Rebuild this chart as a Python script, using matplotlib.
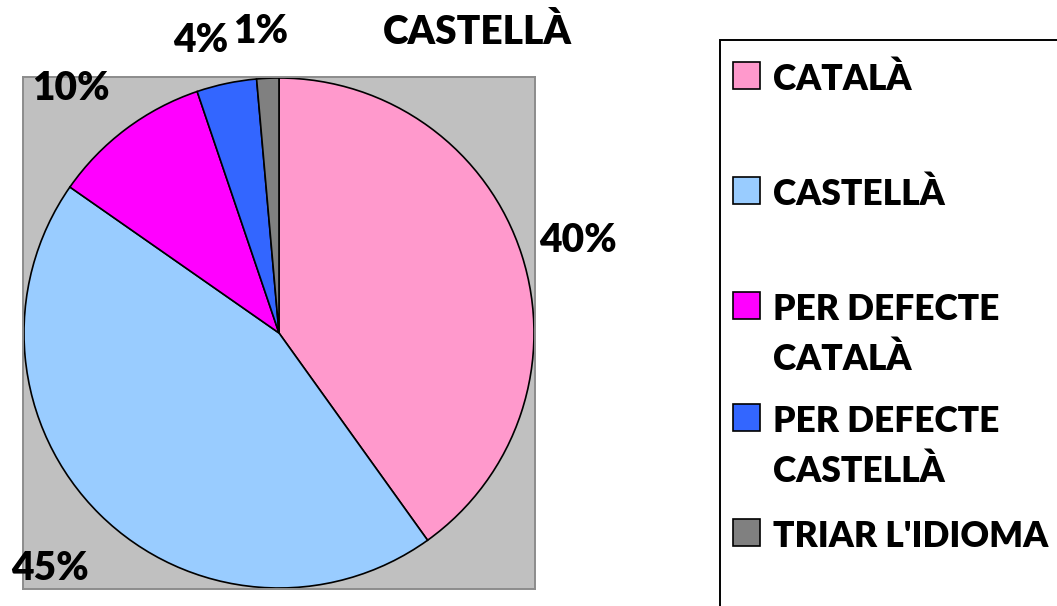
import numpy as np
import matplotlib
matplotlib.use("Agg")
import matplotlib.pyplot as plt
from matplotlib.patches import Rectangle

plt.rcParams['font.family'] = ['Lato', 'DejaVu Sans']
plt.rcParams['font.weight'] = 'heavy'

# ---- data ----
title = "CASTELLÀ"
categories = ["CATALÀ", "CASTELLÀ", "PER DEFECTE\nCATALÀ", "PER DEFECTE\nCASTELLÀ", "TRIAR L'IDIOMA"]
values = [40.1, 44.6, 10.1, 3.8, 1.4]
colors = ["#FF99CC", "#99CCFF", "#FF00FF", "#3366FF", "#808080"]
label_dist = [1.23, 1.28, 1.27, 1.20, 1.20]
label_angle_offset = [0, 0, 3, 3, 1]   # degrees, Excel's label nudging

W, H = 1057, 606
FW = 'heavy'
fig = plt.figure(figsize=(W / 100, H / 100), dpi=100)

def fx(px):
    return px / W

def fy(py):
    return 1 - py / H

# plot area (gray square)
ax = fig.add_axes([fx(23), fy(589), fx(512), 512 / H])
wedges, _t, autotexts = ax.pie(values, colors=colors, startangle=90, counterclock=False,
                               autopct='%1.0f%%', pctdistance=1.0,
                               wedgeprops=dict(edgecolor='black', linewidth=1.2))
ax.set_frame_on(True)
ax.set_facecolor('#C0C0C0')
for sp in ax.spines.values():
    sp.set_color('#8C8C8C')
    sp.set_linewidth(1.4)
lim = 256 / 255
ax.set_xlim(-lim, lim)
ax.set_ylim(-lim, lim)
ax.set_xticks([])
ax.set_yticks([])

for w, t, d, off in zip(wedges, autotexts, label_dist, label_angle_offset):
    mid = np.deg2rad((w.theta1 + w.theta2) / 2 + off)
    t.set_position((d * np.cos(mid), d * np.sin(mid)))
    t.set_ha('center')
    t.set_va('center_baseline')
    t.set_fontsize(28)
    t.set_fontweight(FW)
    t.set_color('black')
    t.set_clip_on(False)

# title
fig.text(fx(477), fy(44), title, ha='center', va='baseline', fontsize=28, fontweight=FW)

# legend (manual, Excel-like)
box = Rectangle((fx(720), fy(640)), fx(400), 600 / H, transform=fig.transFigure,
                facecolor='white', edgecolor='black', linewidth=1.4, zorder=0)
fig.patches.append(box)

baselines = [90, 205, 320, 432, 547]
for lab, col, b in zip(categories, colors, baselines):
    fig.patches.append(Rectangle((fx(733), fy(b - 1)), fx(27), 27 / H,
                                 transform=fig.transFigure, facecolor=col,
                                 edgecolor='black', linewidth=1.2))
    for i, line in enumerate(lab.split("\n")):
        fig.text(fx(773), fy(b + 50 * i), line, ha='left', va='baseline',
                 fontsize=25.5, fontweight=FW)

fig.savefig("out.png", dpi=100)
